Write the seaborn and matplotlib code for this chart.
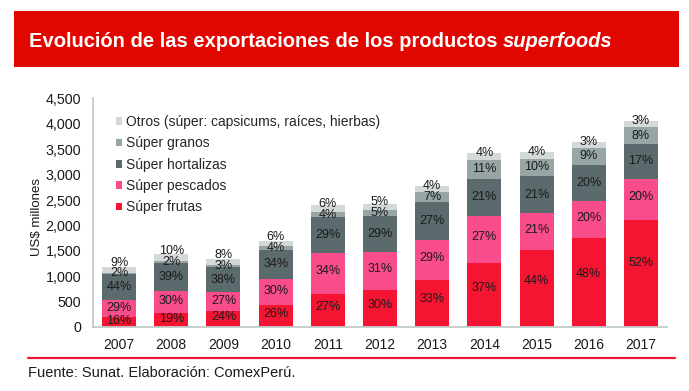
import numpy as np
import matplotlib
matplotlib.use('Agg')
import matplotlib.pyplot as plt
import seaborn as sns
from matplotlib import font_manager
from matplotlib.patches import Rectangle, Patch
from matplotlib.lines import Line2D
from matplotlib.ticker import FuncFormatter

years = ['2007', '2008', '2009', '2010', '2011', '2012', '2013', '2014', '2015', '2016', '2017']

# US$ millones
frutas = [188, 273, 320, 439, 648, 726, 916, 1269, 1520, 1745, 2109]
pescados = [341, 431, 360, 507, 816, 750, 805, 926, 726, 727, 811]
hortalizas = [517, 560, 507, 575, 696, 702, 749, 720, 726, 727, 689]
granos = [24, 29, 40, 68, 96, 121, 194, 377, 346, 327, 324]
otros = [106, 144, 107, 101, 144, 121, 111, 137, 138, 109, 122]

# participacion (%) mostrada en las barras
pct_frutas = [16, 19, 24, 26, 27, 30, 33, 37, 44, 48, 52]
pct_pescados = [29, 30, 27, 30, 34, 31, 29, 27, 21, 20, 20]
pct_hortalizas = [44, 39, 38, 34, 29, 29, 27, 21, 21, 20, 17]
pct_granos = [2, 2, 3, 4, 4, 5, 7, 11, 10, 9, 8]
pct_otros = [9, 10, 8, 6, 6, 5, 4, 4, 4, 3, 3]

names = ['Súper frutas', 'Súper pescados', 'Súper hortalizas', 'Súper granos',
         'Otros (súper: capsicums, raíces, hierbas)']
colors = ['#F51432', '#F94C8B', '#5B6A6D', '#97A6A5', '#D3D8D8']

sns.set_style('white')
plt.rcParams['font.family'] = ['Liberation Sans', 'DejaVu Sans']

installed = {f.name for f in font_manager.fontManager.ttflist}
if 'Liberation Sans Narrow' in installed:
    lab_font, lab_size = ['Liberation Sans Narrow', 'Liberation Sans'], 10
else:
    lab_font, lab_size = ['Liberation Sans', 'DejaVu Sans'], 9

W, H = 689, 391
fig = plt.figure(figsize=(W / 100, H / 100), dpi=100)

# banner del titulo
fig.add_artist(Rectangle((14 / W, 1 - 67 / H), (679 - 14) / W, (67 - 11) / H,
                         transform=fig.transFigure, color='#E10600', lw=0))
t1 = fig.text(29 / W, 1 - 47 / H, 'Evolución de las exportaciones de los productos ',
              color='white', fontsize=14.5, fontweight='bold', va='baseline')
fig.canvas.draw()
bb = t1.get_window_extent()
fig.text(bb.x1 / W, 1 - 47 / H, 'superfoods', color='white', fontsize=14.5,
         fontweight='bold', style='italic', va='baseline')

ax = fig.add_axes([93 / W, 1 - 327 / H, (667 - 93) / W, (327 - 98.5) / H])

vals = np.array([frutas, pescados, hortalizas, granos, otros])
pcts = [pct_frutas, pct_pescados, pct_hortalizas, pct_granos, pct_otros]
cum = np.cumsum(vals, axis=0)

for i in reversed(range(5)):
    sns.barplot(x=years, y=cum[i], order=years, color=colors[i], width=0.65,
                saturation=1, errorbar=None, linewidth=0, ax=ax)

# posicion de las etiquetas dentro de cada segmento
fracs = [0.6, 0.55, 0.5, 0.5]
for j in range(len(years)):
    ys = []
    for i in range(4):
        bottom = cum[i][j] - vals[i][j]
        ys.append(bottom + vals[i][j] * fracs[i])
    ys[3] = min(ys[3], cum[3][j] - 15)
    ys.append(max(cum[4][j], ys[3] + 215))
    for i in range(5):
        ax.text(j, ys[i], f'{pcts[i][j]}%', ha='center', va='center',
                fontsize=lab_size, family=lab_font, color='#1a1a1a')

ax.set_xlim(-0.5, len(years) - 0.5)
ax.set_ylim(0, 4500)
ax.set_yticks(np.arange(0, 4501, 500))
ax.yaxis.set_major_formatter(FuncFormatter(lambda v, p: f'{int(v):,}'))
ax.set_xticks(np.arange(-0.5, len(years), 1), minor=True)
ax.tick_params(axis='x', which='major', length=0, pad=8, labelsize=10, colors='#1a1a1a')
ax.tick_params(axis='x', which='minor', length=4, width=1, color='#C3CACA')
ax.tick_params(axis='y', length=3.6, width=1, color='#C3CACA', pad=5,
               labelsize=10.3, labelcolor='#1a1a1a')
ax.set_xlabel('')
ax.set_ylabel('')
for s in ['top', 'right']:
    ax.spines[s].set_visible(False)
for s in ['left', 'bottom']:
    ax.spines[s].set_color('#C3CACA')
    ax.spines[s].set_linewidth(1.3)

fig.text(37 / W, 1 - 217 / H, 'US$ millones', rotation=90, ha='center',
         va='center', fontsize=9.5, color='#1a1a1a')

handles = [Patch(facecolor=colors[i], edgecolor='none', label=names[i]) for i in reversed(range(5))]
fig.legend(handles=handles, loc='upper left', bbox_to_anchor=(116 / W, 1 - 115 / H),
           frameon=False, fontsize=10, handlelength=0.45, handleheight=0.45,
           handletextpad=0.3, labelspacing=0.53, borderpad=0, borderaxespad=0)

fig.add_artist(Line2D([28 / W, 675 / W], [1 - 358 / H, 1 - 358 / H],
                      transform=fig.transFigure, color='#EE1636', lw=1.6))
fig.text(28 / W, 1 - 377 / H, 'Fuente: Sunat. Elaboración: ComexPerú.',
         fontsize=10.5, color='#1a1a1a', va='baseline')

fig.savefig('out.png', dpi=100)
